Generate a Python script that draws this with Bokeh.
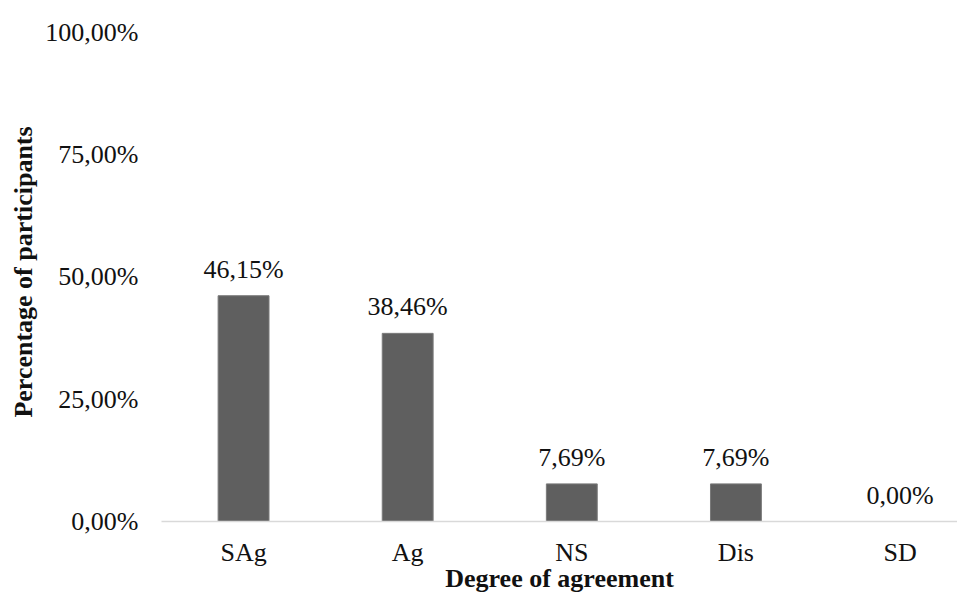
from bokeh.plotting import figure
from bokeh.models import ColumnDataSource, LabelSet, Range1d, FixedTicker
from bokeh.embed import file_html
from bokeh.resources import INLINE

categories = ["SAg", "Ag", "NS", "Dis", "SD"]
percentages = [46.15, 38.46, 7.69, 7.69, 0.00]
y_ticks = [0, 25, 50, 75, 100]
y_tick_labels = ["0,00%", "25,00%", "50,00%", "75,00%", "100,00%"]
x_title = "Degree of agreement"
y_title = "Percentage of participants"

FONT = "Liberation Serif"
FS = "26px"
TXT = "#111111"

xs = list(range(len(categories)))
labels = [f"{v:.2f}%".replace(".", ",") for v in percentages]
src = ColumnDataSource(dict(x=xs, y=percentages, lab=labels))

p = figure(width=957, height=595, output_backend="svg", toolbar_location=None,
           x_range=Range1d(-0.5, 4.35), y_range=Range1d(0, 102),
           min_border_left=161, min_border_right=0, min_border_top=22, min_border_bottom=74)
p.outline_line_color = None
p.grid.grid_line_color = None

p.vbar(x="x", top="y", width=0.31, bottom=0, source=src,
       fill_color="#5f5f5f", line_color="#7a7a7a", line_width=1)

p.add_layout(LabelSet(x="x", y="y", text="lab", source=src, text_align="center",
                      text_baseline="alphabetic", y_offset=18, text_font=FONT,
                      text_font_size=FS, text_color=TXT))

xa = p.xaxis[0]
xa.ticker = FixedTicker(ticks=xs)
xa.major_label_overrides = {i: c for i, c in enumerate(categories)}
xa.axis_line_color = "#d9d9d9"
xa.axis_line_width = 1.5
xa.major_tick_line_color = None
xa.minor_tick_line_color = None
xa.major_label_text_font = FONT
xa.major_label_text_font_size = FS
xa.major_label_text_color = TXT
xa.major_label_standoff = 10
xa.axis_label = x_title
xa.axis_label_text_font = FONT
xa.axis_label_text_font_style = "bold"
xa.axis_label_text_font_size = FS
xa.axis_label_text_color = TXT
xa.axis_label_standoff = -6

ya = p.yaxis[0]
ya.ticker = FixedTicker(ticks=y_ticks)
ya.major_label_overrides = dict(zip(y_ticks, y_tick_labels))
ya.axis_line_color = None
ya.major_tick_line_color = None
ya.minor_tick_line_color = None
ya.major_label_text_font = FONT
ya.major_label_text_font_size = FS
ya.major_label_text_color = TXT
ya.major_label_standoff = 17
ya.axis_label = y_title
ya.axis_label_text_font = FONT
ya.axis_label_text_font_style = "bold"
ya.axis_label_text_font_size = FS
ya.axis_label_text_color = TXT
ya.axis_label_standoff = 4

open("out.html", "w").write(file_html(p, INLINE))
